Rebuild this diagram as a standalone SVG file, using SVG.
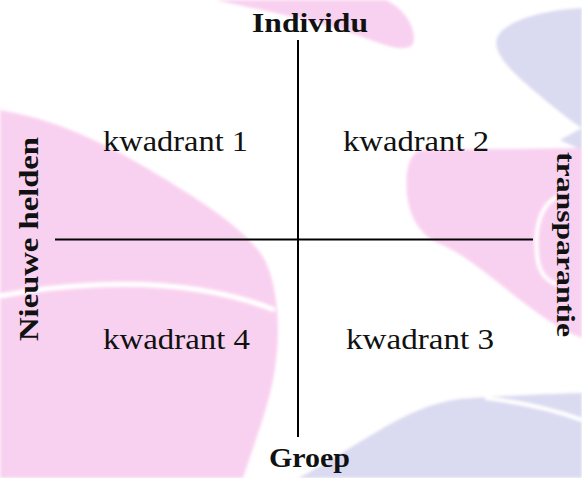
<svg xmlns="http://www.w3.org/2000/svg" width="582" height="478" viewBox="0 0 582 478">
<style>
.pink{fill:#f9d1f0}
.lav{fill:#dadaf1}
.axis{stroke:#000;stroke-width:2;fill:none}
.q{font-family:"Liberation Serif","Times New Roman",serif;font-size:30px;fill:#111}
.b{font-family:"Liberation Serif","Times New Roman",serif;font-size:28px;font-weight:bold;fill:#111}
</style>
<defs>
<filter id="soft" x="-5%" y="-5%" width="110%" height="110%"><feGaussianBlur stdDeviation="1.5"/></filter>
</defs>
<rect width="582" height="478" fill="#fff"/>
<g id="background" filter="url(#soft)">
<path class="pink" d="M215,0 L385,0 C402,6 418,28 413,44 C406,53 385,46 360,36 C320,22 270,12 215,0 Z"/>
<path class="lav" d="M582,8 C545,10 505,20 497,38 C492,55 515,75 545,100 C560,112 572,122 582,128 Z"/>
<path class="lav" d="M582,128 L560,140 L582,150 Z"/>
<path class="pink" d="M420,150 L582,148 L582,338 C560,330 535,312 510,292 C485,272 460,252 440,244 C422,236 410,220 407,195 C405,172 408,155 420,150 Z"/>
<path d="M557,197 C540,205 533,230 538,262 C541,275 549,282 557,284" fill="none" stroke="#fff" stroke-width="4"/>
<path class="pink" d="M0,110 C50,118 100,140 150,170 C200,200 240,225 262,255 C280,285 282,340 272,385 C264,420 252,450 243,478 L0,478 Z"/>
<path d="M0,296 C60,284 140,280 200,290 C230,295 255,302 275,310" fill="none" stroke="#fff" stroke-width="5"/>
<path class="lav" d="M298,478 C320,468 345,450 380,430 C405,415 430,403 460,399 C500,396 545,394 582,393 L582,478 Z"/>
<path d="M485,398 C520,402 555,410 582,420" fill="none" stroke="#fff" stroke-width="4"/>
</g>
<g id="connectors">
<line class="axis" x1="298" y1="40" x2="298" y2="437"/>
<line class="axis" x1="55" y1="239.5" x2="533" y2="239.5"/>
</g>
<g id="individu"><text class="b" x="252" y="32" textLength="116" lengthAdjust="spacingAndGlyphs">Individu</text></g>
<g id="groep"><text class="b" x="269" y="467" textLength="81" lengthAdjust="spacingAndGlyphs">Groep</text></g>
<g id="nieuwe-helden"><text class="b" transform="translate(37.5,341) rotate(-90)" x="0" y="0" textLength="204" lengthAdjust="spacingAndGlyphs">Nieuwe helden</text></g>
<g id="transparantie"><text class="b" style="font-size:26px" transform="translate(557,152) rotate(90)" x="0" y="0" textLength="185" lengthAdjust="spacingAndGlyphs">transparantie</text></g>
<g id="kwadrant1"><text class="q" x="103" y="151" textLength="145" lengthAdjust="spacingAndGlyphs">kwadrant 1</text></g>
<g id="kwadrant2"><text class="q" x="343" y="151" textLength="146" lengthAdjust="spacingAndGlyphs">kwadrant 2</text></g>
<g id="kwadrant4"><text class="q" x="103" y="349" textLength="147" lengthAdjust="spacingAndGlyphs">kwadrant 4</text></g>
<g id="kwadrant3"><text class="q" x="346" y="349" textLength="148" lengthAdjust="spacingAndGlyphs">kwadrant 3</text></g>
</svg>
